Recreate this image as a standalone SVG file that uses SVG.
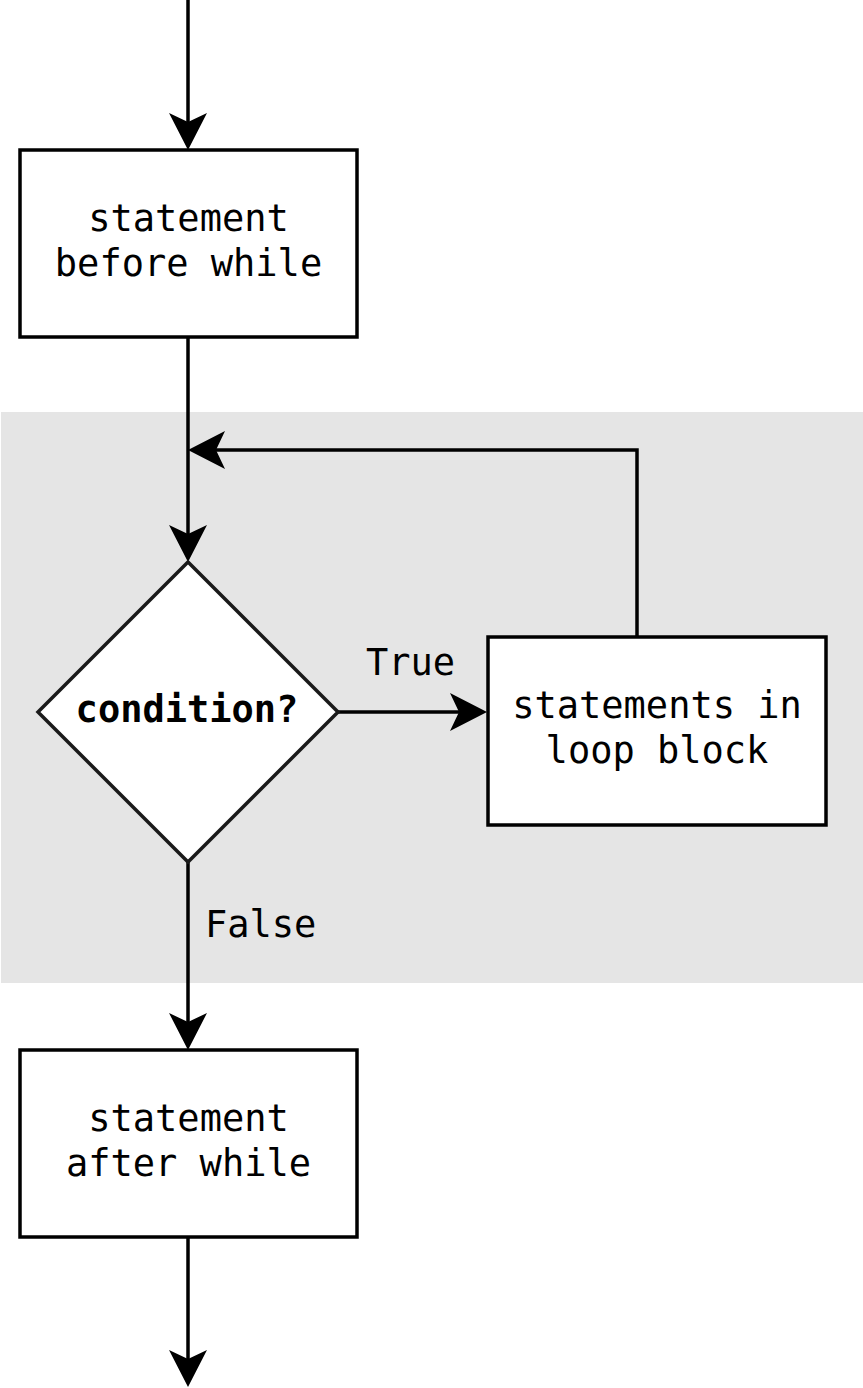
<svg xmlns="http://www.w3.org/2000/svg" width="863" height="1388" viewBox="0 0 863 1388">
<style>
.box{fill:#fff;stroke:#000;stroke-width:3.5}
.dia{fill:#fff;stroke:#1a1a1a;stroke-width:3.5}
.ln{fill:none;stroke:#000;stroke-width:3.5}
.ah{fill:#000;stroke:none}
text{font-family:"DejaVu Sans Mono","Liberation Mono",monospace;font-size:37px;fill:#000;text-anchor:middle}
.b{font-weight:bold}
.l{text-anchor:start}
</style>
<defs>
<path id="arr" d="M0,0 L-37,-19 L-28,0 L-37,19 Z"/>
</defs>
<rect id="loop-area" x="1" y="412" width="862" height="571" fill="#e5e5e5"/>
<g id="connectors">
<line class="ln" x1="188" y1="0" x2="188" y2="124"/>
<use href="#arr" class="ah" transform="translate(188,150) rotate(90)"/>
<line class="ln" x1="188" y1="337" x2="188" y2="536"/>
<use href="#arr" class="ah" transform="translate(188,562) rotate(90)"/>
<polyline class="ln" points="637,637 637,450 214,450"/>
<use href="#arr" class="ah" transform="translate(188,450) rotate(180)"/>
<line class="ln" x1="338" y1="712" x2="461" y2="712"/>
<use href="#arr" class="ah" transform="translate(487,712)"/>
<line class="ln" x1="188" y1="862" x2="188" y2="1024"/>
<use href="#arr" class="ah" transform="translate(188,1050) rotate(90)"/>
<line class="ln" x1="188" y1="1237" x2="188" y2="1361"/>
<use href="#arr" class="ah" transform="translate(188,1387) rotate(90)"/>
<text class="l" x="366" y="675">True</text>
<text class="l" x="205" y="937">False</text>
</g>
<g id="before">
<rect class="box" x="20" y="150" width="337" height="187"/>
<text x="188.5" y="231">statement</text>
<text x="188.5" y="276">before while</text>
</g>
<g id="condition">
<polygon class="dia" points="188,562 338,712 188,862 38,712"/>
<text class="b" x="187" y="722">condition?</text>
</g>
<g id="body">
<rect class="box" x="488" y="637" width="338" height="188"/>
<text x="657" y="718">statements in</text>
<text x="657" y="763">loop block</text>
</g>
<g id="after">
<rect class="box" x="20" y="1050" width="337" height="187"/>
<text x="188.5" y="1131">statement</text>
<text x="188.5" y="1176">after while</text>
</g>
</svg>
